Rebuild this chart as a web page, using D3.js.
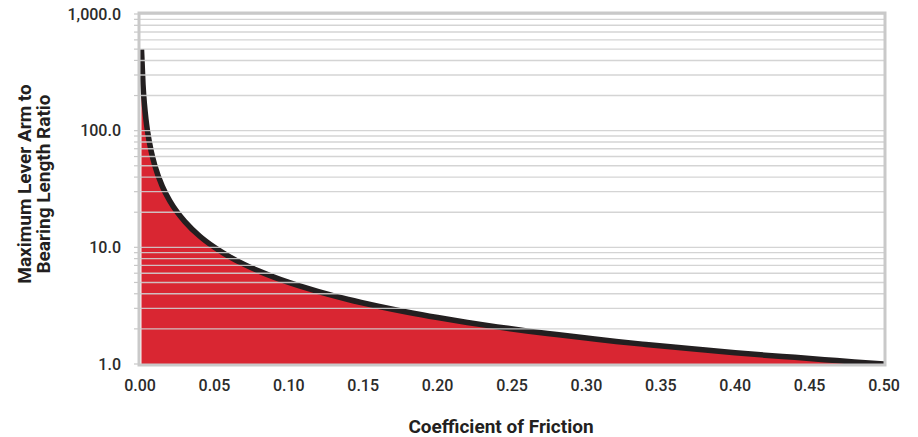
<!doctype html>
<html>
  <head>
    <meta charset="utf-8">
    <title>Lever arm ratio vs coefficient of friction</title>
    <script src="https://cdn.jsdelivr.net/npm/d3@7"></script>
    <style>
      body { margin: 0; background: #fff; }
      svg { display: block; font-family: Roboto, "Liberation Sans", sans-serif; }
      .tick-label { font-size: 16px; font-weight: 500; fill: #2b2b2b; }
      .axis-title { font-size: 19px; font-weight: 700; fill: #231f20; }
    </style>
  </head>
  <body>
    <svg id="chart" width="918" height="437"></svg>
<script>
// values
var friction = [0.001, 0.002, 0.003, 0.004, 0.005, 0.0075, 0.01, 0.015, 0.02, 0.025, 0.03, 0.04,
  0.05, 0.06, 0.07, 0.08, 0.09, 0.10, 0.12, 0.14, 0.16, 0.18, 0.20, 0.22, 0.24, 0.26,
  0.28, 0.30, 0.32, 0.34, 0.36, 0.38, 0.40, 0.42, 0.44, 0.46, 0.48, 0.50];
var ratio = [500, 250, 167, 125, 100, 66.7, 50, 33.3, 25, 20, 16.7, 12.5,
  10, 8.33, 7.14, 6.25, 5.56, 5.0, 4.17, 3.57, 3.13, 2.78, 2.5, 2.27, 2.08, 1.92,
  1.79, 1.67, 1.56, 1.47, 1.39, 1.32, 1.25, 1.19, 1.14, 1.09, 1.04, 1.0];
var xTicks = [0, 0.05, 0.10, 0.15, 0.20, 0.25, 0.30, 0.35, 0.40, 0.45, 0.50];
var yTicks = [1, 10, 100, 1000];

var svg = d3.select('#chart');
var pLeft = 140, pRight = 884, pTop = 14, pBottom = 364;

var x = d3.scaleLinear().domain([0, 0.5]).range([pLeft, pRight]);
var y = d3.scaleLog().domain([1, 1000]).range([pBottom, pTop]);

var pts = friction.map(function(f, i) { return [f, ratio[i]]; });

svg.append('clipPath').attr('id', 'plot-clip')
  .append('rect').attr('x', pLeft).attr('y', pTop).attr('width', pRight - pLeft).attr('height', pBottom - pTop);

var plot = svg.append('g').attr('clip-path', 'url(#plot-clip)');

// red fill under curve
plot.append('path')
  .datum(pts)
  .attr('fill', '#d92632')
  .attr('d', d3.area()
    .x(function(d) { return x(d[0]); })
    .y0(pBottom)
    .y1(function(d) { return y(d[1]); })
    .curve(d3.curveMonotoneX));

// grid values (minor + major)
var gridVals = [];
[1, 10, 100].forEach(function(dec) {
  for (var k = 1; k < 10; k++) gridVals.push(dec * k);
});
gridVals.push(1000);

// black curve
plot.append('path')
  .datum(pts)
  .attr('fill', 'none')
  .attr('stroke', '#231f20')
  .attr('stroke-width', 5.5)
  .attr('d', d3.line()
    .x(function(d) { return x(d[0]); })
    .y(function(d) { return y(d[1]); })
    .curve(d3.curveMonotoneX));

plot.selectAll('line.grid')
  .data(gridVals.filter(function(v) { return v > 1; }))
  .enter().append('line')
  .attr('class', 'grid')
  .attr('x1', pLeft).attr('x2', pRight)
  .attr('y1', function(d) { return y(d); })
  .attr('y2', function(d) { return y(d); })
  .attr('stroke', '#cfcfcf')
  .attr('stroke-opacity', 0.9)
  .attr('stroke-width', 1.4);

// left tick marks
svg.selectAll('line.ytick')
  .data(gridVals)
  .enter().append('line')
  .attr('class', 'ytick')
  .attr('x1', pLeft - 6).attr('x2', pLeft)
  .attr('y1', function(d) { return y(d); })
  .attr('y2', function(d) { return y(d); })
  .attr('stroke', '#c8c8c8')
  .attr('stroke-width', 1.2);

// frame
svg.append('rect')
  .attr('x', pLeft - 1).attr('y', pTop - 1)
  .attr('width', pRight - pLeft + 2).attr('height', pBottom - pTop + 2)
  .attr('fill', 'none')
  .attr('stroke', '#c9c9c9')
  .attr('stroke-width', 3);

// y tick labels
svg.selectAll('text.ylab')
  .data(yTicks)
  .enter().append('text')
  .attr('class', 'tick-label')
  .attr('x', 121)
  .attr('y', function(d) { return y(d); })
  .attr('dy', '0.36em')
  .attr('text-anchor', 'end')
  .text(function(d) { return d3.format(',.1f')(d); });

// x tick labels
svg.selectAll('text.xlab')
  .data(xTicks)
  .enter().append('text')
  .attr('class', 'tick-label')
  .attr('x', function(d) { return x(d); })
  .attr('y', 391)
  .attr('text-anchor', 'middle')
  .text(function(d) { return d3.format('.2f')(d); });

// axis titles
svg.append('text')
  .attr('class', 'axis-title')
  .attr('x', 501).attr('y', 433)
  .attr('text-anchor', 'middle')
  .text('Coefficient of Friction');

var yt = svg.append('text')
  .attr('class', 'axis-title')
  .attr('transform', 'translate(0,184) rotate(-90)')
  .attr('text-anchor', 'middle');
yt.append('tspan').attr('x', 0).attr('y', 31).text('Maximum Lever Arm to');
yt.append('tspan').attr('x', 0).attr('y', 50).text('Bearing Length Ratio');
</script>
  </body>
</html>
